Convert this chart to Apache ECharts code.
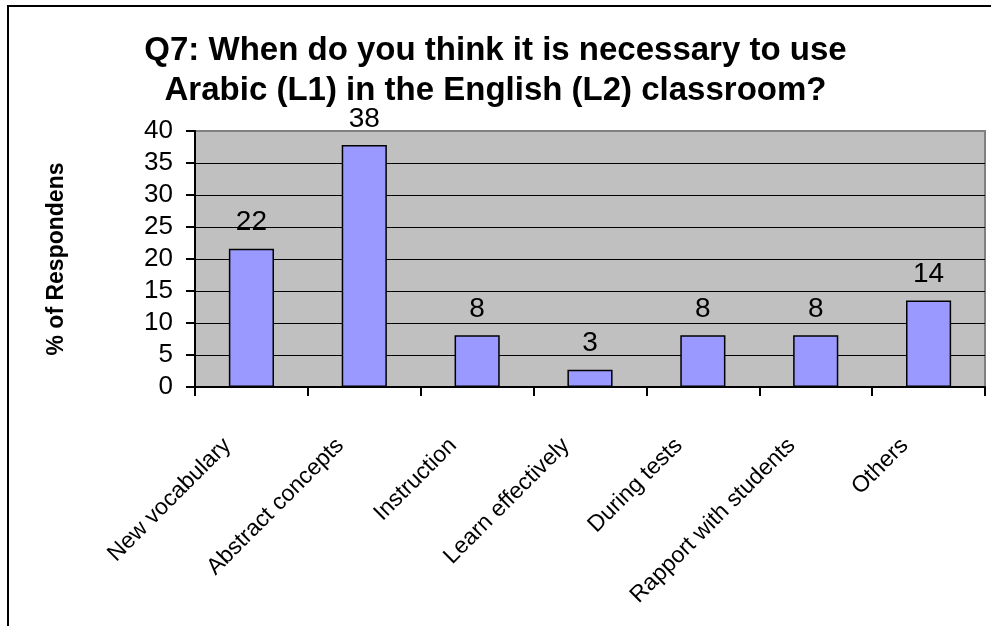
<!DOCTYPE html>
<html>
<head>
<meta charset="utf-8">
<script src="https://cdn.jsdelivr.net/npm/echarts@6/dist/echarts.min.js"></script>
<style>
  html, body { margin: 0; padding: 0; background: #fff; }
  #chart { width: 991px; height: 626px; }
</style>
</head>
<body>
<div id="chart"></div>
<script>
// categories and % of respondents (labels shown rounded)
const categories = ["New vocabulary", "Abstract concepts", "Instruction", "Learn effectively", "During tests", "Rapport with students", "Others"];
const percentValues = [21.6, 37.8, 8.1, 2.7, 8.1, 8.1, 13.5];
const yTicks = [0, 5, 10, 15, 20, 25, 30, 35, 40];

const font = "Arial, 'Liberation Sans', sans-serif";
const chart = echarts.init(document.getElementById("chart"), null, { renderer: "canvas" });

// black split lines, the one at the top matches the grey plot border
const splitColors = yTicks.map((v, i) => (i === yTicks.length - 1 ? "#808080" : "#000"));

const option = {
    animation: false,
    backgroundColor: "#fff",
    title: {
        text: "Q7: When do you think it is necessary to use\nArabic (L1) in the English (L2) classroom?",
        left: "center",
        top: 26,
        textStyle: {
            fontFamily: font,
            fontWeight: "bold",
            fontSize: 33,
            lineHeight: 40,
            color: "#000"
        }
    },
    graphic: [
        {
            type: "rect",
            shape: { x: 8, y: 6, width: 1000, height: 700 },
            style: { fill: "none", stroke: "#000", lineWidth: 2 },
            silent: true
        }
    ],
    grid: {
        left: 195,
        right: 6,
        top: 131,
        bottom: 239,
        show: true,
        backgroundColor: "#c0c0c0",
        borderColor: "#808080",
        borderWidth: 2
    },
    xAxis: {
        type: "category",
        data: categories,
        boundaryGap: true,
        axisLine: { lineStyle: { color: "#000", width: 2 } },
        axisTick: { show: true, length: 9, lineStyle: { color: "#000", width: 2 } },
        axisLabel: {
            interval: 0,
            rotate: 45,
            margin: 31,
            padding: [0, 34, 0, 0],
            fontFamily: font,
            fontSize: 23,
            color: "#000"
        }
    },
    yAxis: {
        type: "value",
        min: 0,
        max: 40,
        interval: 5,
        name: "% of Respondens",
        nameLocation: "middle",
        nameRotate: 90,
        nameGap: 127,
        nameTextStyle: {
            fontFamily: font,
            fontWeight: "bold",
            fontSize: 23,
            color: "#000"
        },
        axisLine: { show: true, lineStyle: { color: "#000", width: 2 } },
        axisTick: { show: true, length: 9, lineStyle: { color: "#000", width: 2 } },
        axisLabel: {
            margin: 22,
            fontFamily: font,
            fontSize: 26,
            color: "#000"
        },
        splitLine: {
            show: true,
            lineStyle: { color: splitColors, width: 1 }
        }
    },
    series: [
        {
            type: "bar",
            data: percentValues,
            barWidth: "40%",
            itemStyle: {
                color: "#9999ff",
                borderColor: "#000",
                borderWidth: 1.5
            },
            label: {
                show: true,
                position: "top",
                distance: 12,
                fontFamily: font,
                fontSize: 28,
                color: "#000",
                formatter: p => Math.round(p.value)
            }
        }
    ]
};

chart.setOption(option);
</script>
</body>
</html>
